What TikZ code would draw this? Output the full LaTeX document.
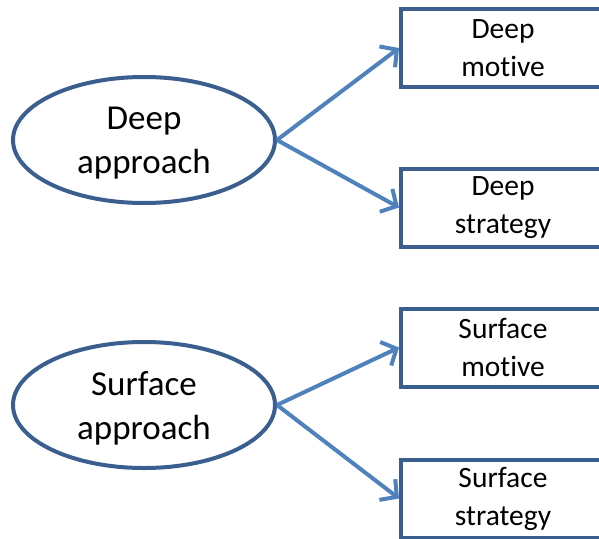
\documentclass[tikz,border=0pt]{standalone}
\usepackage{fontspec}
\setmainfont{Carlito}[Ligatures={NoCommon,NoContextual},Contextuals=NoAlternate,RawFeature={-liga,-clig,-calt,-dlig}]
\usetikzlibrary{shapes.geometric,arrows.meta}
\definecolor{edgeblue}{HTML}{3A5F8F}
\definecolor{arrowblue}{HTML}{4F81BD}
\tikzset{
  approach/.style={ellipse,draw=edgeblue,line width=4pt,minimum width=262pt,minimum height=126pt,inner sep=0pt,align=center,text depth=0pt,font=\fontsize{35}{44}\selectfont},
  itembox/.style={rectangle,draw=edgeblue,line width=4pt,minimum width=204pt,minimum height=78pt,inner sep=0pt,align=center,font=\fontsize{29.5}{38}\selectfont},
  link/.style={draw=arrowblue,line width=4pt,-{Straight Barb[length=12pt,width=26pt,line width=4pt]}}
}
\begin{document}
\begin{tikzpicture}[x=1pt,y=-1pt]
\useasboundingbox (0,0) rectangle (599,538);
\clip (0,0) rectangle (599,538);
\node[approach] (da) at (144,140) {Deep\\approach};
\node[approach] (sa) at (144,405) {Surface\\approach};
\node[itembox] (dm) at (503,48) {Deep\\motive};
\node[itembox] (ds) at (503,207.5) {Deep\\strategy};
\node[itembox] (sm) at (503,347.5) {Surface\\motive};
\node[itembox] (ss) at (503,498.5) {Surface\\strategy};
\draw[link] (da.east) -- (dm.west);
\draw[link] (da.east) -- (ds.west);
\draw[link] (sa.east) -- (sm.west);
\draw[link] (sa.east) -- (ss.west);
\end{tikzpicture}
\end{document}
